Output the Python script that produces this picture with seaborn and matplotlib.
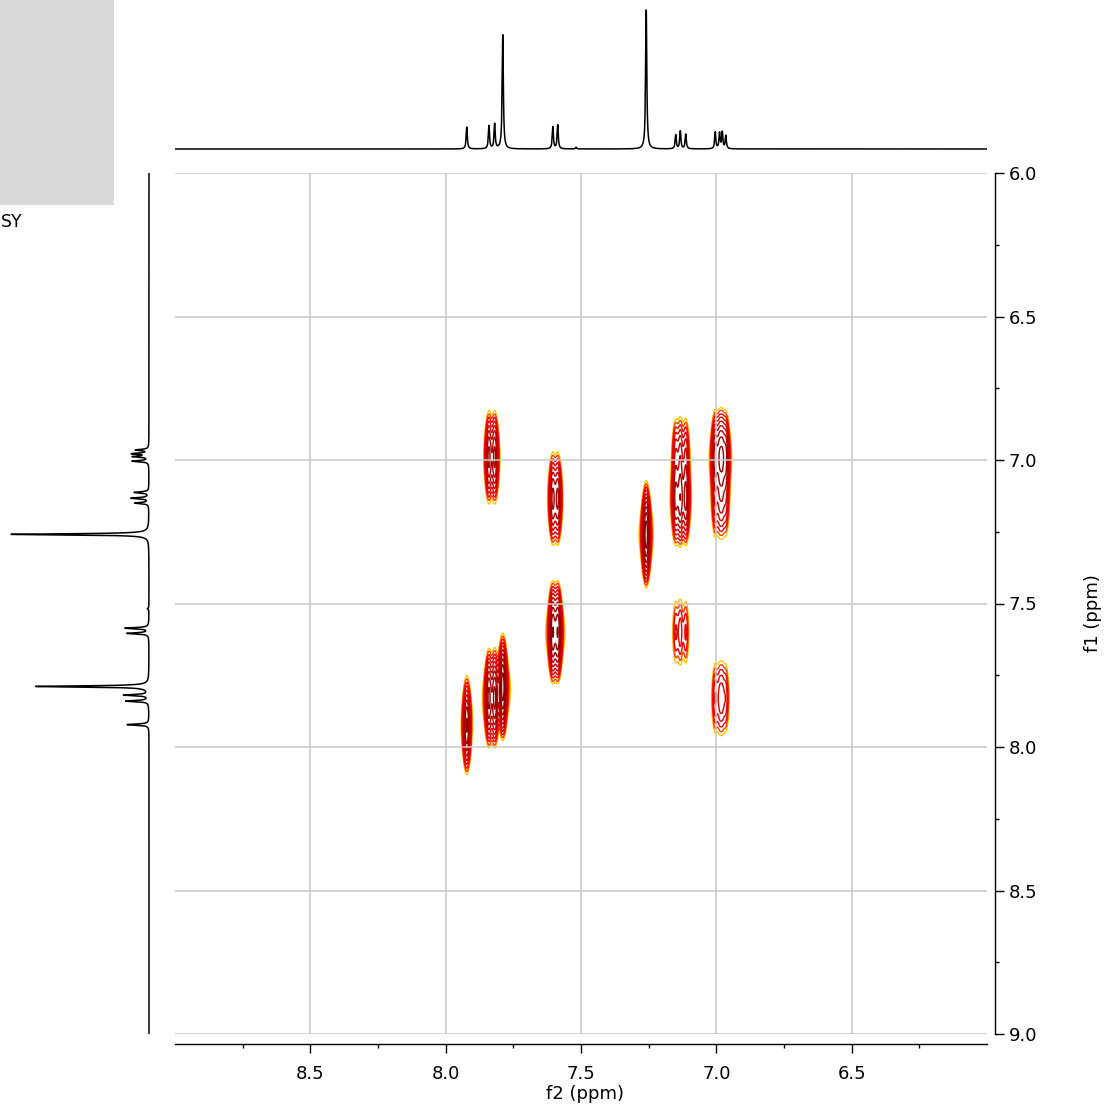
import numpy as np
import pandas as pd
import matplotlib
matplotlib.use("Agg")
import matplotlib.pyplot as plt
from matplotlib.patches import Rectangle
from matplotlib.ticker import FixedLocator, FormatStrFormatter
import seaborn as sns

# ---- 1H projection: line positions (ppm) and relative heights ----
proj_ppm = [7.922, 7.840, 7.819, 7.789, 7.604, 7.586, 7.518, 7.259,
            7.150, 7.133, 7.113, 7.004, 6.988, 6.978, 6.965]
proj_height = [0.158, 0.165, 0.178, 0.820, 0.158, 0.172, 0.012, 1.000,
               0.100, 0.128, 0.105, 0.120, 0.112, 0.118, 0.094]

# ---- multiplets used in the 2D map (f2 lines, weights, f1 centre) ----
mult_label = ["A", "B", "C", "D", "E", "F", "G"]
mult_lines = [[7.922], [7.840, 7.819], [7.789], [7.604, 7.586], [7.259],
              [7.150, 7.133, 7.113], [7.004, 6.988, 6.978, 6.965]]
mult_weights = [[1.0], [1.0, 1.0], [1.0], [1.0, 1.0], [1.0],
                [0.8, 1.0, 0.85], [1.0, 0.9, 0.95, 0.8]]
mult_center = [7.925, 7.830, 7.790, 7.600, 7.260, 7.135, 6.990]

# ---- cross peaks: f2 multiplet, f1 multiplet, intensity ----
cross_f2 = ["A", "B", "C", "D", "E", "D", "F", "B", "G", "F", "F", "G", "G"]
cross_f1 = ["A", "B", "C", "D", "E", "F", "D", "G", "B", "F", "G", "G", "F"]
cross_amp = [0.55, 0.60, 1.00, 0.80, 1.00, 0.40, 0.09, 0.40, 0.14,
             0.50, 0.19, 0.60, 0.19]

# ---- axis ticks ----
x_major_ticks = [8.5, 8.0, 7.5, 7.0, 6.5]
x_minor_ticks = [8.75, 8.25, 7.75, 7.25, 6.75, 6.25]
y_major_ticks = [6.0, 6.5, 7.0, 7.5, 8.0, 8.5, 9.0]
y_minor_ticks = [6.25, 6.75, 7.25, 7.75, 8.25, 8.75]

# processing / display parameters
LW_1D = 0.0025      # half width of projection lines (ppm)
SIG_F2 = 0.0068     # gaussian core width in f2 (ppm)
LOR_F2 = 0.007      # lorentzian wing half width in f2 (ppm)
LOR_FRAC = 0.3      # share of the lorentzian wing
SIG_F1 = 0.066      # gaussian width in f1 (ppm)
contour_base, contour_ratio, n_levels = 0.02, 1.5, 12
contour_colors = ["#FFC800", "#FF4000", "#F20000", "#E20000", "#D20000",
                  "#C20000", "#B20000", "#A20000", "#920000", "#840000",
                  "#760000", "#680000"]


def lorentz(x, c, g):
    return 1.0 / (1.0 + ((x - c) / g) ** 2)


def f2_line(x, c):
    gauss = np.exp(-0.5 * ((x - c) / SIG_F2) ** 2)
    return (1 - LOR_FRAC) * gauss + LOR_FRAC * lorentz(x, c, LOR_F2)


# projection trace
ppm_1d = np.arange(6.0, 9.0 + 1e-9, 0.0005)
trace = np.zeros_like(ppm_1d)
for p, h in zip(proj_ppm, proj_height):
    trace += h * lorentz(ppm_1d, p, LW_1D)
df_proj = pd.DataFrame({"ppm": ppm_1d, "intensity": trace})

# 2D map
f2 = np.arange(6.0, 9.0 + 1e-9, 0.001)
f1 = np.arange(6.0, 9.0 + 1e-9, 0.02)
f2_profile = {}
for lab, lines, wts in zip(mult_label, mult_lines, mult_weights):
    prof = sum(w * f2_line(f2, l) for l, w in zip(lines, wts))
    f2_profile[lab] = prof / prof.max()
centre = dict(zip(mult_label, mult_center))
Z = np.zeros((f1.size, f2.size))
for a, b, amp in zip(cross_f2, cross_f1, cross_amp):
    g1 = np.exp(-0.5 * ((f1 - centre[b]) / SIG_F1) ** 2)
    Z += amp * np.outer(g1, f2_profile[a])
levels = contour_base * contour_ratio ** np.arange(n_levels)

# ---- figure ----
sns.set_theme(style="white")
plt.rcParams["font.family"] = ["DejaVu Sans"]
W, H = 1110, 1107
fig = plt.figure(figsize=(W / 100, H / 100), dpi=100)


def px_axes(x0, y0, x1, y1):
    return fig.add_axes([x0 / W, 1 - y1 / H, (x1 - x0) / W, (y1 - y0) / H])


ax = px_axes(175, 173, 987, 1034)
ax_top = px_axes(175, 0, 987, 155)
ax_left = px_axes(0, 173, 155, 1034)

# 2D contours
ax.contour(f2, f1, Z, levels=levels, colors=contour_colors, linewidths=1.0)
ax.set_xlim(9.0, 6.0)
ax.set_ylim(9.0, 6.0)
ax.set_axisbelow(False)
ax.grid(True, which="major", color="#c8c8c8", linewidth=1.1)
ax.xaxis.set_major_locator(FixedLocator(x_major_ticks))
ax.xaxis.set_minor_locator(FixedLocator(x_minor_ticks))
ax.yaxis.set_major_locator(FixedLocator(y_major_ticks))
ax.yaxis.set_minor_locator(FixedLocator(y_minor_ticks))
ax.xaxis.set_major_formatter(FormatStrFormatter("%.1f"))
ax.yaxis.set_major_formatter(FormatStrFormatter("%.1f"))
ax.yaxis.tick_right()
ax.yaxis.set_label_position("right")
for s in ("left", "top"):
    ax.spines[s].set_visible(False)
for s in ("right", "bottom"):
    ax.spines[s].set_visible(True)
    ax.spines[s].set_color("black")
    ax.spines[s].set_linewidth(1.0)
ax.spines["right"].set_position(("outward", 6))
ax.spines["bottom"].set_position(("outward", 7))
ax.tick_params(axis="both", which="major", direction="out", length=6.5,
               width=1.0, color="black", labelsize=13, labelcolor="black")
ax.tick_params(axis="both", which="minor", direction="out", length=3.2,
               width=1.0, color="black")
ax.tick_params(axis="x", which="both", bottom=True, top=False)
ax.tick_params(axis="x", which="major", pad=8.5)
ax.tick_params(axis="y", which="both", right=True, left=False)
ax.tick_params(axis="y", which="major", pad=3)
ax.set_xlabel("f2 (ppm)", fontsize=13, color="black")
ax.set_ylabel("f1 (ppm)", fontsize=13, color="black", rotation=90)
ax.xaxis.set_label_coords(0.505, -0.059)
ax.yaxis.set_label_coords(1.1305, 0.489)
ax.yaxis.label.set_va("center")
ax.yaxis.label.set_ha("center")

# projections
sns.lineplot(data=df_proj, x="ppm", y="intensity", ax=ax_top, color="black",
             linewidth=1.1, estimator=None, sort=False)
ax_top.set_xlim(9.0, 6.0)
ax_top.set_ylim(-0.0432, 1.0719)
ax_top.set_axis_off()

sns.lineplot(data=df_proj, x="intensity", y="ppm", ax=ax_left, color="black",
             linewidth=1.1, estimator=None, sort=False, orient="y")
ax_left.set_ylim(9.0, 6.0)
ax_left.set_xlim(1.0797, -0.0435)
ax_left.set_axis_off()

# title panel
fig.patches.append(Rectangle((0, 1 - 205 / H), 114 / W, 205 / H,
                             transform=fig.transFigure, facecolor="#d9d9d9",
                             edgecolor="none", zorder=0))
fig.text(0.6 / W, 1 - 222 / H, "SY", ha="left", va="center", fontsize=12.5,
         color="black")

fig.savefig("out.png", dpi=100)
